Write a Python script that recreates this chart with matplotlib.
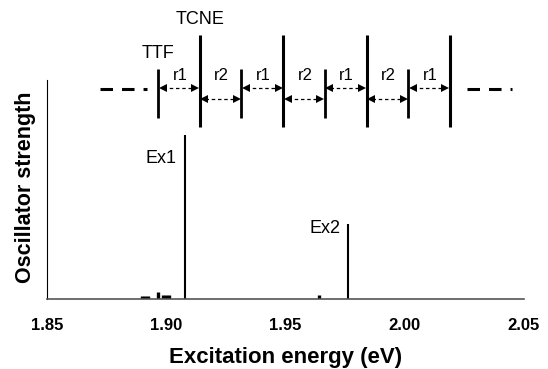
import matplotlib
matplotlib.use("Agg")
import matplotlib.pyplot as plt

plt.rcParams["font.family"] = ["Liberation Sans", "DejaVu Sans"]
plt.rcParams["lines.scale_dashes"] = False

# excitation spectrum (energies in eV, oscillator strength in arb. units)
main_energy = [1.9080, 1.9764]
main_strength = [0.748, 0.341]
main_labels = ["Ex1", "Ex2"]
small_energy = [1.8899, 1.8912, 1.8925, 1.8966, 1.8987, 1.9000, 1.9013, 1.9642]
small_strength = [0.012, 0.012, 0.012, 0.030, 0.017, 0.017, 0.017, 0.017]

xticks = [1.85, 1.90, 1.95, 2.00, 2.05]
xtick_labels = ["1.85", "1.90", "1.95", "2.00", "2.05"]
blue_ticks = [1.90, 1.95, 2.00]

# stacking schematic
stack = ["TTF", "TCNE", "TTF", "TCNE", "TTF", "TCNE", "TTF", "TCNE"]
gaps = ["r1", "r2", "r1", "r2", "r1", "r2", "r1"]

W, H = 548, 369
fig = plt.figure(figsize=(W / 100, H / 100), dpi=100)

# main axes
ax = fig.add_axes([47 / W, (H - 298.5) / H, 477 / W, 218.5 / H])
ax.set_xlim(1.85, 2.05)
ax.set_ylim(0, 1)
ax.vlines(main_energy, 0, main_strength, color="black", lw=1.5)
ax.vlines(small_energy, 0, small_strength, color="black", lw=2.4)

offsets = [(-6, -11), (-6, 3)]
for e, s, lab, off in zip(main_energy, main_strength, main_labels, offsets):
    ax.annotate(lab, xy=(e, s), xytext=off, textcoords="offset points",
                ha="right", va="top", fontsize=13)

for side in ["top", "right"]:
    ax.spines[side].set_visible(False)
ax.spines["left"].set_color("black")
ax.spines["left"].set_linewidth(0.8)
ax.spines["bottom"].set_color("#555555")
ax.spines["bottom"].set_linewidth(1.2)

ax.set_yticks([])
ax.set_xticks(xticks)
ax.set_xticklabels(xtick_labels, fontsize=12, fontweight="bold")
ax.tick_params(axis="x", which="major", length=0, pad=14)
ax.set_xticks(blue_ticks, minor=True)
ax.tick_params(axis="x", which="minor", length=6.5, width=0.8,
               color="#3030ff", direction="out")

fig.text(26 / W, 1 - 187 / H, "Oscillator strength", rotation=90,
         ha="center", va="center", fontsize=15.5, fontweight="bold")
fig.text(286 / W, 1 - 358 / H, "Excitation energy (eV)",
         ha="center", va="center", fontsize=16, fontweight="bold")

# overlay in pixel coordinates for the stacking schematic
ov = fig.add_axes([0, 0, 1, 1], facecolor="none")
ov.set_xlim(0, W)
ov.set_ylim(H, 0)
ov.axis("off")

x0, step = 158, 41.7
xs = [x0 + i * step for i in range(len(stack))]
for x, name in zip(xs, stack):
    if name == "TTF":
        ov.plot([x, x], [69, 118], color="black", lw=2.0, solid_capstyle="butt")
    else:
        ov.plot([x, x], [35, 127], color="black", lw=2.2, solid_capstyle="butt")

ov.text(xs[0], 53, "TTF", ha="center", va="center", fontsize=13)
ov.text(xs[1], 20, "TCNE", ha="center", va="center", fontsize=13)

for i, g in enumerate(gaps):
    a, b = xs[i] + 2, xs[i + 1] - 2
    y = 88 if g == "r1" else 99
    ov.plot([a + 3, b - 3], [y, y], color="black", lw=0.9, ls=(0, (2.5, 2)))
    ov.plot([a + 2.5], [y], marker="<", ms=5.5, color="black", mew=0)
    ov.plot([b - 2.5], [y], marker=">", ms=5.5, color="black", mew=0)
    ov.text((xs[i] + xs[i + 1]) / 2 + 1, 75, g, ha="center", va="center",
            fontsize=12)

dash = (0, (9, 6.5))
ov.plot([100, 147], [89, 89], color="black", lw=2.2, ls=dash,
        dash_capstyle="butt")
ov.plot([467, 512], [89, 89], color="black", lw=2.2, ls=dash,
        dash_capstyle="butt")

fig.savefig("out.png", dpi=100)
